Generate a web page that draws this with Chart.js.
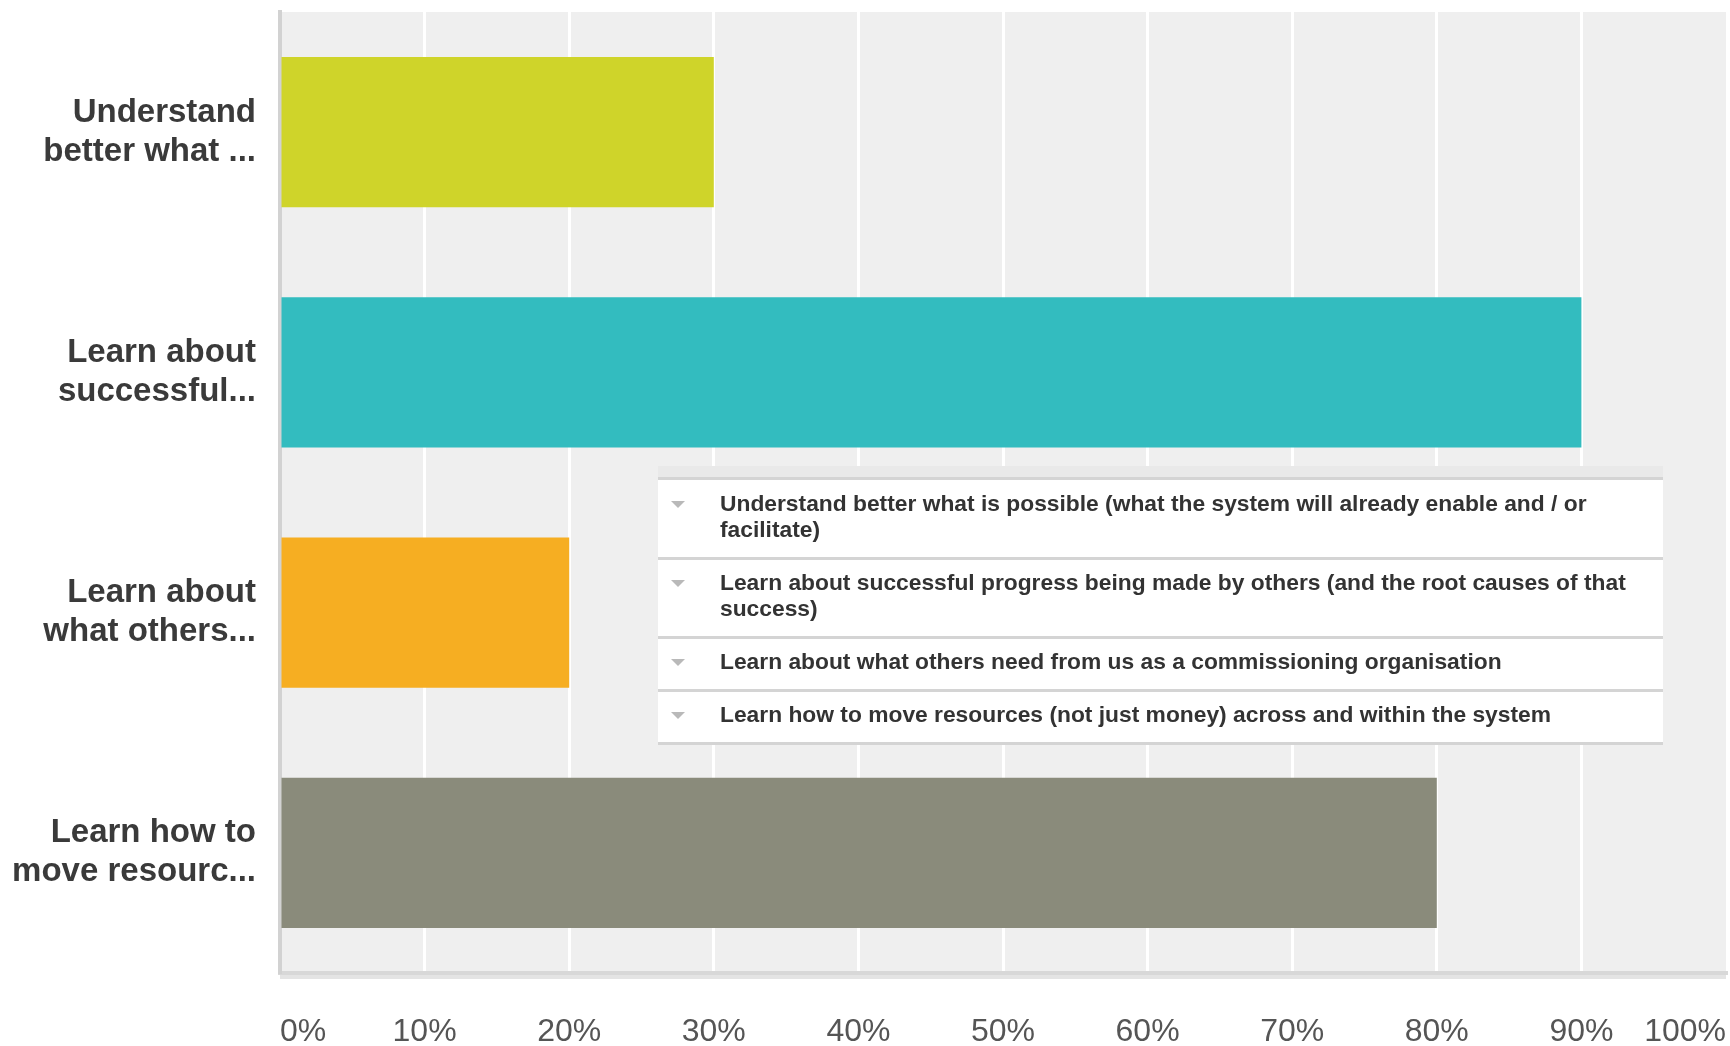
<!DOCTYPE html>
<html>
<head>
<meta charset="utf-8">
<script src="https://cdn.jsdelivr.net/npm/chart.js@4/dist/chart.umd.min.js"></script>
<style>
  html, body { margin: 0; padding: 0; background: #fff; }
  canvas { display: block; }
</style>
</head>
<body>
<canvas id="chart" width="1730" height="1046"></canvas>
<script>
'use strict';

// ── Data ──────────────────────────────────────────────────────
const answerChoices = [
  'Understand better what is possible (what the system will already enable and / or facilitate)',
  'Learn about successful progress being made by others (and the root causes of that success)',
  'Learn about what others need from us as a commissioning organisation',
  'Learn how to move resources (not just money) across and within the system',
];
const axisLabels = [
  ['Understand', 'better what ...'],
  ['Learn about', 'successful...'],
  ['Learn about', 'what others...'],
  ['Learn how to', 'move resourc...'],
];
const responseShares = [30, 90, 20, 80];
const barColors = ['#cfd42a', '#33bcbf', '#f6ae22', '#8a8b7b'];

// ── Theme ─────────────────────────────────────────────────────
const FONT = "'Liberation Sans', Arial, sans-serif";
const THEME = {
  plotBg:    '#efefef',
  grid:      '#ffffff',
  axisLine:  '#d2d2d2',
  tickText:  '#555555',
  labelText: '#3a3a3a',
  legendText:'#333333',
  legendRule:'#d4d4d4',
  legendHead:'#e9e9e9',
  marker:    '#b9b9b9',
};

// grey panel behind the bars
const plotBackground = {
  id: 'plotBackground',
  beforeDraw(chart) {
    const { ctx, chartArea: { left, top, right, bottom } } = chart;
    ctx.save();
    ctx.fillStyle = THEME.plotBg;
    ctx.fillRect(left, top, right - left, bottom - top);
    // soft shadow under the baseline
    ctx.fillStyle = '#e4e4e4';
    ctx.fillRect(left, bottom + 2, right - left, 4);
    ctx.restore();
  },
};

function wrapText(ctx, text, maxWidth) {
  const words = text.split(' ');
  const lines = [];
  let line = '';
  words.forEach(w => {
    const test = line ? line + ' ' + w : w;
    if (ctx.measureText(test).width > maxWidth && line) {
      lines.push(line);
      line = w;
    } else {
      line = test;
    }
  });
  if (line) lines.push(line);
  return lines;
}

// boxed legend listing the full answer texts
const choiceLegend = {
  id: 'choiceLegend',
  afterDraw(chart, args, opts) {
    const { ctx } = chart;
    const x = opts.x, w = opts.width;
    const lineH = 26, pad = 13, textX = x + 62, maxW = 925;
    ctx.save();
    ctx.font = `bold 22.8px ${FONT}`;
    const rows = answerChoices.map(t => wrapText(ctx, t, maxW));
    const bodyH = rows.reduce((s, r) => s + r.length * lineH + pad * 2 + 1, 0);

    let y = opts.y;
    ctx.fillStyle = THEME.legendHead;
    ctx.fillRect(x, y, w, 11);
    y += 11;
    ctx.fillStyle = '#ffffff';
    ctx.fillRect(x, y, w, bodyH + 4);

    ctx.fillStyle = THEME.legendRule;
    ctx.fillRect(x, y, w, 3);
    y += 2;

    rows.forEach(lines => {
      const h = lines.length * lineH + pad * 2;
      // marker triangle
      const my = y + pad + lineH / 2;
      ctx.fillStyle = THEME.marker;
      ctx.beginPath();
      ctx.moveTo(x + 13, my - 4);
      ctx.lineTo(x + 27, my - 4);
      ctx.lineTo(x + 20, my + 3);
      ctx.closePath();
      ctx.fill();

      ctx.fillStyle = THEME.legendText;
      ctx.textBaseline = 'middle';
      ctx.textAlign = 'left';
      lines.forEach((ln, i) => ctx.fillText(ln, textX, y + pad + lineH * i + lineH / 2));

      y += h;
      ctx.fillStyle = THEME.legendRule;
      ctx.fillRect(x, y, w, 3);
      y += 1;
    });
    ctx.restore();
  },
};

// drop the label overhang padding Chart.js reserves around the plot
function noOverhang(s) {
  s.paddingTop = 0;
  s.paddingBottom = 0;
  s.paddingLeft = 0;
  s.paddingRight = 0;
}

new Chart(document.getElementById('chart'), {
  type: 'bar',
  data: {
    labels: axisLabels,
    datasets: [{
      data: responseShares,
      backgroundColor: barColors,
      borderWidth: 0,
      barPercentage: 0.625,
      categoryPercentage: 1,
    }],
  },
  options: {
    indexAxis: 'y',
    responsive: false,
    animation: false,
    layout: { padding: { top: 12, right: 4, left: 0, bottom: 0 } },
    scales: {
      x: {
        min: 0,
        max: 100,
        afterFit: s => { s.height = 73; noOverhang(s); },
        grid: {
          color: c => (c.tick && (c.tick.value === 0 || c.tick.value === 100)) ? 'rgba(0,0,0,0)' : THEME.grid,
          lineWidth: 3,
          drawTicks: false,
        },
        border: { display: true, color: '#d8d8d8', width: 4 },
        ticks: {
          stepSize: 10,
          align: 'inner',
          padding: 40,
          color: THEME.tickText,
          font: { family: FONT, size: 32 },
          callback: v => v + '%',
        },
      },
      y: {
        afterFit: s => { s.width = 280; noOverhang(s); },
        grid: { display: false, drawTicks: false },
        border: { display: true, color: THEME.axisLine, width: 4 },
        ticks: {
          padding: 24,
          color: THEME.labelText,
          font: { family: FONT, size: 33, weight: 'bold', lineHeight: 1.18 },
        },
      },
    },
    plugins: {
      legend: { display: false },
      tooltip: { enabled: false },
      choiceLegend: { x: 658, y: 466, width: 1005 },
    },
  },
  plugins: [plotBackground, choiceLegend],
});
</script>
</body>
</html>
